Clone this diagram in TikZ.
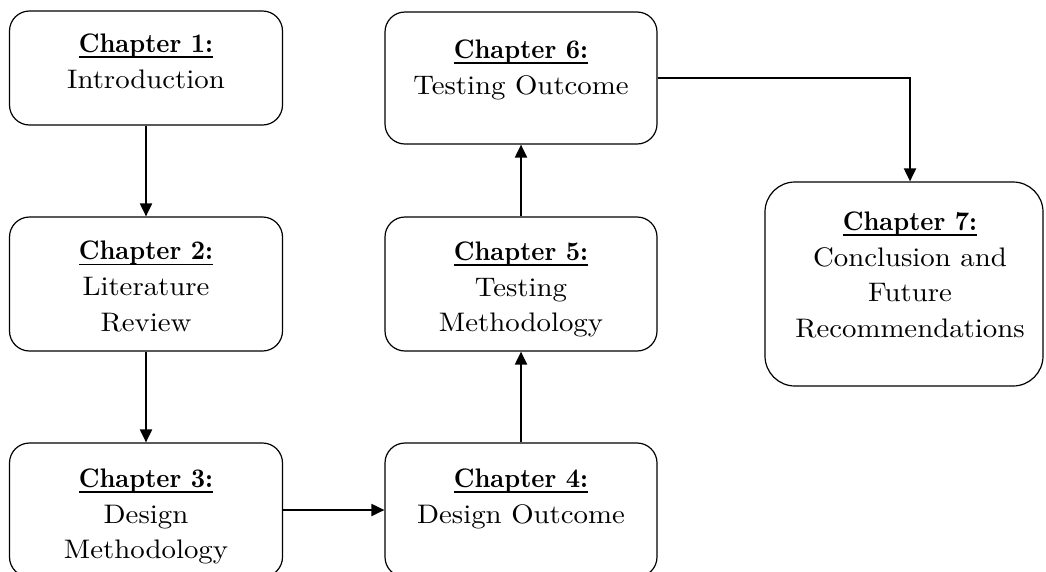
\documentclass[tikz,border=0pt]{standalone}
\usepackage{graphicx}
\usetikzlibrary{arrows.meta}
\tikzset{
  chapbox/.style={draw, line width=1.2pt, rounded corners=20pt, inner sep=0pt},
  chaptext/.style={align=center, inner sep=0pt, anchor=north,
                   font=\fontsize{10}{13.3}\selectfont},
  flow/.style={line width=2pt, -{Triangle[length=13pt,width=12pt]}},
}
% underlined bold heading, a little condensed
\newcommand\chaphead[1]{\setbox0\hbox{\scalebox{0.865}[1]{\textbf{Chapter #1:}}}%
  \rlap{\rule[-2.05pt]{\wd0}{0.7pt}}\box0}
% centred stack of lines, enlarged
\newcommand\chaplines[1]{\scalebox{2.88}[2.68]{\begin{tabular}{@{}c@{}}#1\end{tabular}}}
\begin{document}
\begin{tikzpicture}[x=1pt,y=-1pt]
  \path[use as bounding box, clip] (0,0) rectangle (1046,571);

  % chapter boxes
  \node[chapbox, minimum width=273pt, minimum height=114pt] (c1) at (146,68) {};
  \node[chapbox, minimum width=273pt, minimum height=134pt] (c2) at (146,284) {};
  \node[chapbox, minimum width=273pt, minimum height=134pt] (c3) at (146,510) {};
  \node[chapbox, minimum width=272pt, minimum height=134pt] (c4) at (521,510) {};
  \node[chapbox, minimum width=272pt, minimum height=134pt] (c5) at (521,284) {};
  \node[chapbox, minimum width=272pt, minimum height=132pt] (c6) at (521,78) {};
  \node[chapbox, rounded corners=30pt, minimum width=278pt, minimum height=204pt] (c7) at (904,284) {};

  % chapter titles
  \node[chaptext] (t1) at ([yshift=-17pt]c1.north) {\chaplines{\chaphead{1}\\Introduction}};
  \node[chaptext] (t2) at ([yshift=-18.4pt]c2.north) {\chaplines{\chaphead{2}\\Literature\\Review}};
  \node[chaptext] (t3) at ([yshift=-20pt]c3.north) {\chaplines{\chaphead{3}\\Design\\Methodology}};
  \node[chaptext] (t4) at ([yshift=-20pt]c4.north) {\chaplines{\chaphead{4}\\Design Outcome}};
  \node[chaptext] (t5) at ([yshift=-19pt]c5.north) {\chaplines{\chaphead{5}\\Testing\\Methodology}};
  \node[chaptext] (t6) at ([yshift=-22.3pt]c6.north) {\chaplines{\chaphead{6}\\Testing Outcome}};
  \node[chaptext] (t7) at ([xshift=6pt,yshift=-24pt]c7.north) {\chaplines{\chaphead{7}\\Conclusion and\\Future\\Recommendations}};

  % reading order
  \draw[flow] (c1) -- (c2);
  \draw[flow] (c2) -- (c3);
  \draw[flow] (c3) -- (c4);
  \draw[flow] (c4) -- (c5);
  \draw[flow] (c5) -- (c6);
  \draw[flow] (c6.east) -| ([xshift=6pt]c7.north);
\end{tikzpicture}
\end{document}
